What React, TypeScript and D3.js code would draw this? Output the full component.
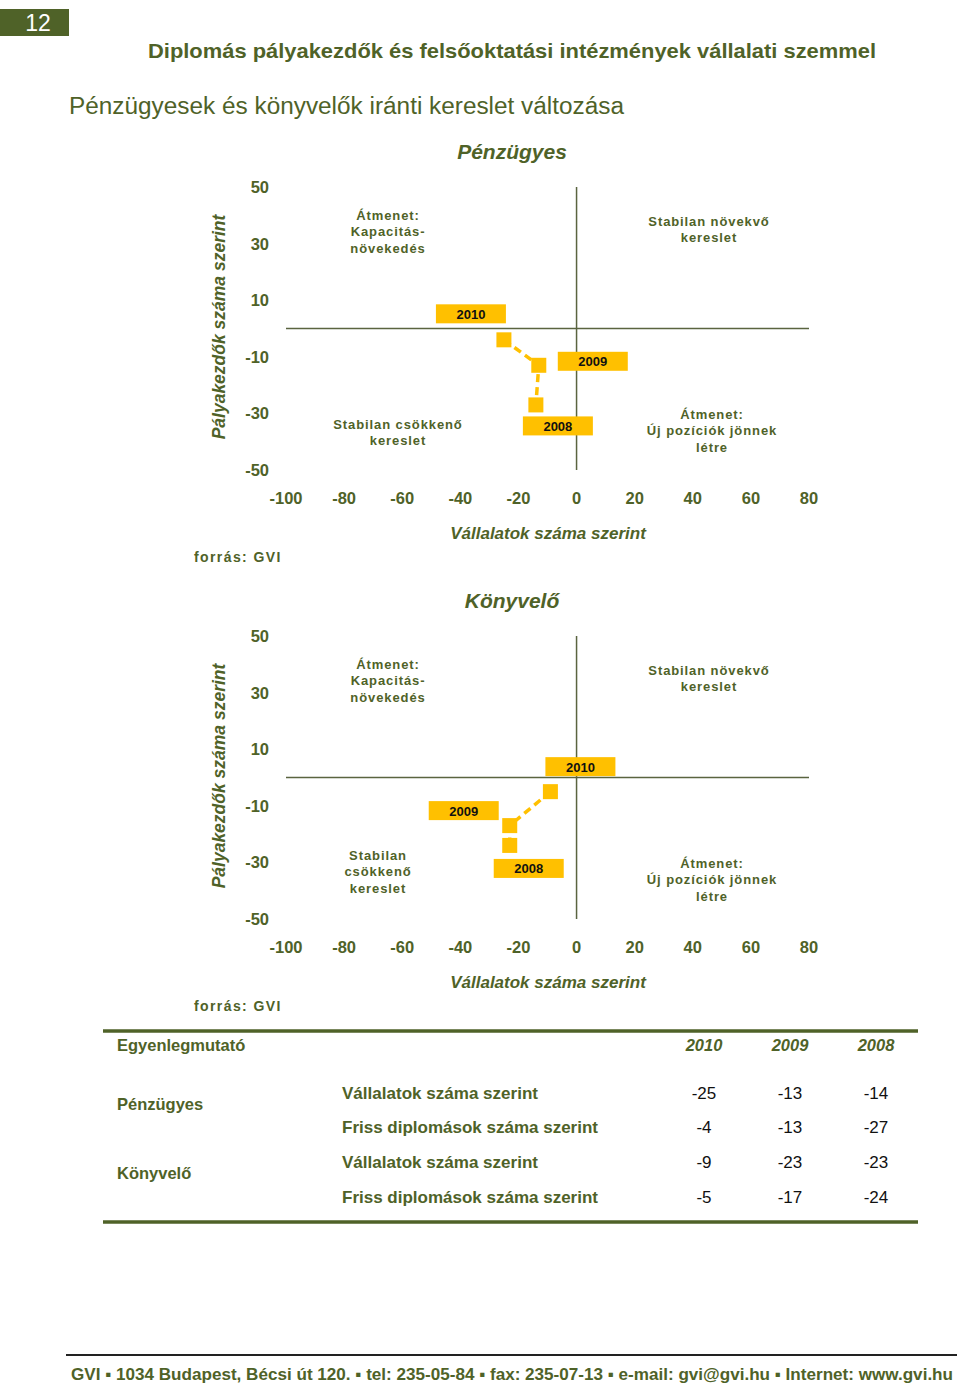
import React from "react";
import * as d3 from "d3";

const years = ["2010", "2009", "2008"];
const penzVallalat = [-25, -13, -14];
const penzFriss = [-4, -13, -27];
const konyvVallalat = [-9, -23, -23];
const konyvFriss = [-5, -17, -24];
const xTicks = [-100, -80, -60, -40, -20, 0, 20, 40, 60, 80];
const yTicks = [50, 30, 10, -10, -30, -50];
const rowGroups = ["Pénzügyes", "Könyvelő"];
const rowLabels = ["Vállalatok száma szerint", "Friss diplomások száma szerint"];

const GREEN = "#4F6228";
const GOLD = "#FFC000";
const FONT = "Liberation Sans, Arial, sans-serif";

type ChartProps = {
  top: number;
  title: string;
  xs: number[];
  ys: number[];
  labelOffsets: number[][];
  declineLines: string[];
  declineX: number;
};

function Chart({ top, title, xs, ys, labelOffsets, declineLines, declineX }: ChartProps) {
  const x = d3.scaleLinear().domain([-100, 80]).range([286, 809]);
  const y = d3.scaleLinear().domain([-50, 50]).range([top + 470, top + 187]);
  const line = d3
    .line<number>()
    .x((_, i) => x(xs[i]))
    .y((_, i) => y(ys[i]));
  const quad = (lines: string[], cx: number, cy: number, key: string) => (
    <g key={key}>
      {lines.map((t, i) => (
        <text
          key={i}
          x={cx}
          y={top + cy + i * 16.5}
          textAnchor="middle"
          dominantBaseline="central"
          fontSize={13}
          fontWeight="bold"
          letterSpacing={0.9}
          fill={GREEN}
        >
          {t}
        </text>
      ))}
    </g>
  );
  return (
    <g fontFamily={FONT}>
      <text x={512} y={top + 151} textAnchor="middle" dominantBaseline="central" fontSize={21} fontWeight="bold" fontStyle="italic" fill={GREEN}>
        {title}
      </text>
      <text
        transform={`translate(219,${top + 327}) rotate(-90)`}
        textAnchor="middle"
        dominantBaseline="central"
        fontSize={17.5}
        fontWeight="bold"
        fontStyle="italic"
        fill={GREEN}
      >
        Pályakezdők száma szerint
      </text>
      {yTicks.map((t) => (
        <text key={t} x={269} y={y(t)} textAnchor="end" dominantBaseline="central" fontSize={16.5} fontWeight="bold" fill={GREEN}>
          {t}
        </text>
      ))}
      {xTicks.map((t) => (
        <text key={t} x={x(t)} y={top + 498} textAnchor="middle" dominantBaseline="central" fontSize={16.5} fontWeight="bold" fill={GREEN}>
          {t}
        </text>
      ))}
      <line x1={x(-100)} x2={x(80)} y1={y(0)} y2={y(0)} stroke="#5a6440" strokeWidth={1.5} />
      <line x1={x(0)} x2={x(0)} y1={y(50)} y2={y(-50)} stroke="#5a6440" strokeWidth={1.5} />
      <text x={548} y={top + 533} textAnchor="middle" dominantBaseline="central" fontSize={17} fontWeight="bold" fontStyle="italic" fill={GREEN}>
        Vállalatok száma szerint
      </text>
      <text x={194} y={top + 557} dominantBaseline="central" fontSize={14} fontWeight="bold" letterSpacing={1.4} fill={GREEN}>
        forrás: GVI
      </text>
      {quad(["Átmenet:", "Kapacitás-", "növekedés"], 388, 215, "q1")}
      {quad(["Stabilan növekvő", "kereslet"], 709, 221, "q2")}
      {quad(declineLines, declineX, declineLines.length === 3 ? 406 : 424, "q3")}
      {quad(["Átmenet:", "Új pozíciók jönnek", "létre"], 712, 414, "q4")}
      <path d={line(xs) || ""} fill="none" stroke={GOLD} strokeWidth={3.5} strokeDasharray="8,5" />
      {xs.map((v, i) => (
        <rect key={i} x={x(v) - 7.5} y={y(ys[i]) - 7.5} width={15} height={15} fill={GOLD} />
      ))}
      {xs.map((v, i) => {
        const cx = x(v) + labelOffsets[i][0];
        const cy = y(ys[i]) + labelOffsets[i][1];
        return (
          <g key={"l" + i}>
            <rect x={cx - 35} y={cy - 9.5} width={70} height={19} fill={GOLD} />
            <text x={cx} y={cy + 0.5} textAnchor="middle" dominantBaseline="central" fontSize={13} fontWeight="bold" fill="#111">
              {years[i]}
            </text>
          </g>
        );
      })}
    </g>
  );
}

export default function App() {
  const tableRows = [
    [penzVallalat, penzFriss],
    [konyvVallalat, konyvFriss],
  ];
  const colX = d3.scalePoint<string>().domain(years).range([704, 876]);
  const rowY = [1093, 1127, 1162, 1197];
  const rowLen = [196, 256];
  return (
    <svg width={960} height={1387} style={{ position: "absolute", left: 0, top: 0, background: "#fff" }} fontFamily={FONT}>
      <rect x={0} y={9} width={69} height={27} fill={GREEN} />
      <text x={38} y={23} textAnchor="middle" dominantBaseline="central" fontSize={23} fill="#fff">
        12
      </text>
      <text x={148} y={50} dominantBaseline="central" fontSize={20.5} fontWeight="bold" fill={GREEN} textLength={728} lengthAdjust="spacingAndGlyphs">
        Diplomás pályakezdők és felsőoktatási intézmények vállalati szemmel
      </text>
      <text x={69} y={106} dominantBaseline="central" fontSize={23} fill={GREEN} textLength={555} lengthAdjust="spacingAndGlyphs">
        Pénzügyesek és könyvelők iránti kereslet változása
      </text>

      <Chart
        top={0}
        title="Pénzügyes"
        xs={penzVallalat}
        ys={penzFriss}
        labelOffsets={[[-33, -26], [54, -4], [22, 21]]}
        declineLines={["Stabilan csökkenő", "kereslet"]}
        declineX={398}
      />
      <Chart
        top={449}
        title="Könyvelő"
        xs={konyvVallalat}
        ys={konyvFriss}
        labelOffsets={[[30, -25], [-46, -15], [19, 23]]}
        declineLines={["Stabilan", "csökkenő", "kereslet"]}
        declineX={378}
      />

      <line x1={103} x2={918} y1={1031} y2={1031} stroke={GREEN} strokeWidth={3.5} />
      <line x1={103} x2={918} y1={1222} y2={1222} stroke={GREEN} strokeWidth={3.5} />
      <text x={117} y={1045} dominantBaseline="central" fontSize={16.5} fontWeight="bold" fill={GREEN}>
        Egyenlegmutató
      </text>
      {years.map((yr) => (
        <text key={yr} x={colX(yr)} y={1045} textAnchor="middle" dominantBaseline="central" fontSize={16.5} fontWeight="bold" fontStyle="italic" fill={GREEN}>
          {yr}
        </text>
      ))}
      {rowGroups.map((g, gi) => (
        <text key={g} x={117} y={gi === 0 ? 1104 : 1173} dominantBaseline="central" fontSize={16.5} fontWeight="bold" fill={GREEN}>
          {g}
        </text>
      ))}
      {tableRows.map((grp, gi) =>
        grp.map((vals, ri) => {
          const yy = rowY[gi * 2 + ri];
          return (
            <g key={`${gi}-${ri}`}>
              <text x={342} y={yy} dominantBaseline="central" fontSize={16.5} fontWeight="bold" fill={GREEN} textLength={rowLen[ri]} lengthAdjust="spacingAndGlyphs">
                {rowLabels[ri]}
              </text>
              {vals.map((v, i) => (
                <text key={i} x={colX(years[i])} y={yy} textAnchor="middle" dominantBaseline="central" fontSize={17} fill="#111">
                  {v}
                </text>
              ))}
            </g>
          );
        })
      )}

      <line x1={66} x2={957} y1={1355} y2={1355} stroke="#222" strokeWidth={2} />
      <text x={71} y={1374} dominantBaseline="central" fontSize={17} fontWeight="bold" fill={GREEN} textLength={882} lengthAdjust="spacingAndGlyphs">
        GVI ▪ 1034 Budapest, Bécsi út 120. ▪ tel: 235-05-84 ▪ fax: 235-07-13 ▪ e-mail: gvi@gvi.hu ▪ Internet: www.gvi.hu
      </text>
    </svg>
  );
}
